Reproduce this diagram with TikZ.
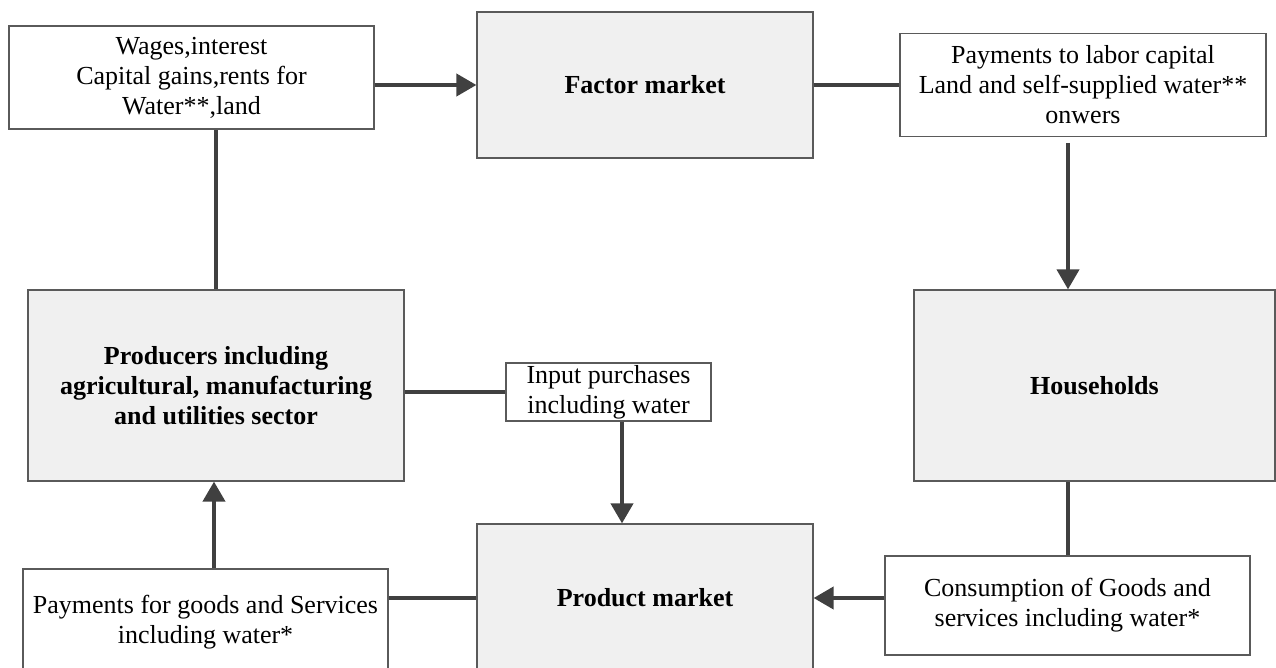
\documentclass[tikz,border=0pt]{standalone}
\usepackage{fontspec}
\setmainfont{Liberation Serif}
\usetikzlibrary{arrows.meta}
\definecolor{boxfill}{HTML}{F0F0F0}
\definecolor{boxline}{HTML}{5A5A5A}
\definecolor{conn}{HTML}{404040}
\begin{document}
\begin{tikzpicture}[x=1pt,y=-1pt,
  txt/.style={font=\fontsize{26}{30}\selectfont, align=center, inner sep=0pt},
  whitebox/.style={txt, draw=boxline, line width=1.2pt, fill=white, rectangle},
  graybox/.style={txt, draw=boxline, line width=1.2pt, fill=boxfill, rectangle, font=\fontsize{26}{30}\selectfont\bfseries},
  link/.style={draw=conn, line width=4pt},
  arr/.style={link, -{Triangle[length=20pt,width=22pt]}}]
\useasboundingbox (0,0) rectangle (1276,668);
\clip (0,0) rectangle (1276,668);
\node[whitebox, minimum width=365pt, minimum height=103pt] (wages) at (191.5,77.5) {Wages,interest\\Capital gains,rents for\\Water**,land};
\node[graybox, minimum width=336pt, minimum height=146pt] (factor) at (645,85) {Factor market};
\node[whitebox, minimum width=366pt, minimum height=103pt] (pay) at (1083,85) {Payments to labor capital\\Land and self-supplied water**\\onwers};
\node[graybox, minimum width=361pt, minimum height=191pt] (house) at (1094.5,385.5) {Households};
\node[graybox, minimum width=376pt, minimum height=191pt] (prod) at (216,385.5) {Producers including\\agricultural, manufacturing\\and utilities sector};
\node[whitebox, minimum width=205pt, minimum height=58pt] (input) at (608.5,392) {Input purchases\\including water};
\node[graybox, minimum width=336pt, minimum height=148pt] (pmkt) at (645,598) {Product market};
\node[whitebox, minimum width=365pt, minimum height=106pt] (paygoods) at (205.5,622) {Payments for goods and Services\\including water*};
\node[whitebox, minimum width=365pt, minimum height=99pt] (cons) at (1067.5,605.5) {Consumption of Goods and\\services including water*};
\coordinate (payout) at (1068,143);
\coordinate (inx) at (622,0);
% connectors
\draw[arr] (wages.east |- factor.west) -- (factor.west);
\draw[link] (factor.east) -- (factor.east -| pay.west);
\draw[arr] (payout) -- (payout |- house.north);
\draw[link] (cons.north) -- (cons.north |- house.south);
\draw[arr] (cons.west |- pmkt.east) -- (pmkt.east);
\draw[link] (pmkt.west) -- (pmkt.west -| paygoods.east);
\draw[arr] ([xshift=-2pt]prod.south |- paygoods.north) -- ([xshift=-2pt]prod.south);
\draw[link] (prod.north) -- (prod.north |- wages.south);
\draw[link] (input.west) -- (input.west -| prod.east);
\draw[arr] (input.south -| inx) -- (pmkt.north -| inx);
\end{tikzpicture}
\end{document}
